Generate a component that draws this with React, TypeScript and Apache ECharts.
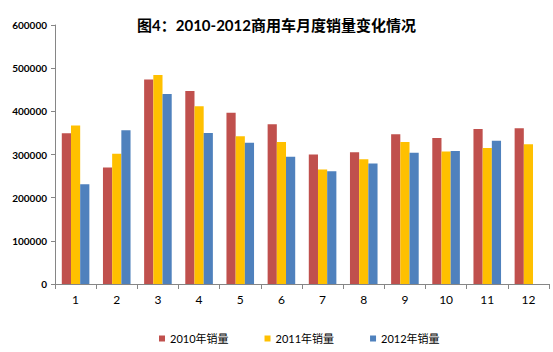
import React, { useEffect, useRef } from "react";
import * as echarts from "echarts";

const months = ["1", "2", "3", "4", "5", "6", "7", "8", "9", "10", "11", "12"];
const sales2010 = [349000, 270000, 474000, 447000, 397000, 370000, 300000, 305000, 347000, 338000, 359000, 361000];
const sales2011 = [367000, 302000, 484000, 412000, 342000, 329000, 265000, 289000, 329000, 307000, 315000, 324000];
const sales2012 = [231000, 356000, 440000, 350000, 327000, 295000, 261000, 279000, 304000, 308000, 332000, null];
const seriesNames = ["2010年销量", "2011年销量", "2012年销量"];
const colors = ["#C0504D", "#FFC000", "#4F81BD"];
const titleText = "图4：2010-2012商用车月度销量变化情况";

const FONT = 'Lato, "Noto Sans CJK SC", sans-serif';

export default function App() {
  const ref = useRef<HTMLDivElement>(null);
  useEffect(() => {
    if (!ref.current) return;
    const chart = echarts.init(ref.current, null, { renderer: "svg" });
    const data = [sales2010, sales2011, sales2012];
    chart.setOption({
      animation: false,
      backgroundColor: "#ffffff",
      title: {
        text: titleText,
        left: "center",
        top: 12,
        textStyle: { fontFamily: FONT, fontSize: 15, fontWeight: "bold", color: "#000" },
      },
      legend: {
        data: seriesNames,
        left: 154,
        top: 328,
        icon: "rect",
        itemWidth: 6,
        itemHeight: 6,
        itemGap: 36,
        textStyle: { fontFamily: FONT, fontSize: 11, color: "#000" },
      },
      grid: { left: 55, right: 4, top: 25, bottom: 68, containLabel: false },
      xAxis: {
        type: "category",
        data: months,
        axisLine: { lineStyle: { color: "#868686" } },
        axisTick: { show: true, length: 5, lineStyle: { color: "#868686" } },
        axisLabel: { fontFamily: FONT, fontSize: 12, color: "#000", margin: 9 },
      },
      yAxis: {
        type: "value",
        min: 0,
        max: 600000,
        interval: 100000,
        axisLine: { show: true, lineStyle: { color: "#868686" } },
        axisTick: { show: true, length: 4, lineStyle: { color: "#868686" } },
        splitLine: { show: false },
        axisLabel: {
          fontFamily: FONT,
          fontSize: 10,
          fontWeight: "bold",
          color: "#000",
          margin: 8,
          formatter: (v: number) => String(v),
        },
      },
      series: seriesNames.map((name, i) => ({
        name,
        type: "bar",
        data: data[i],
        barGap: "0%",
        barCategoryGap: "33%",
        itemStyle: { color: colors[i] },
      })),
    });
    return () => chart.dispose();
  }, []);
  return (
    <div
      ref={ref}
      style={{ position: "fixed", left: 0, top: 0, width: 553, height: 352 }}
    />
  );
}
